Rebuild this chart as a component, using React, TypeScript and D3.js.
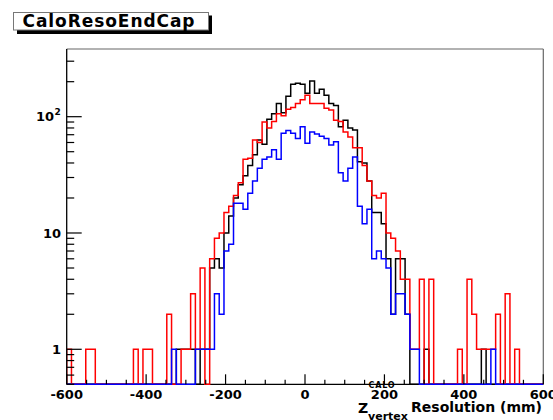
import React from "react";
import * as d3 from "d3";

// ---- data (100 bins of 12 mm from -600 to 600) ----
const xMin = -600;
const xMax = 600;
const binCount = 100;

const blackCounts = [
  0,0,0,0,0,0,0,0,0,0, 0,0,0,0,0,0,0,0,0,0,
  0,0,0,1,1,1,1,0,1,1, 5,6,5,10,14,20,26,31,38,47,
  63,58,95,106,130,108,150,190,194,190, 159,203,159,172,153,130,125,82,93,80,
  77,41,40,28,15,15,12,6,2,6, 6,2,0,0,0,1,0,0,0,0,
  0,0,0,0,0,0,0,1,0,0, 0,0,0,0,0,0,0,0,0,0,
];

const redCounts = [
  1,0,0,0,1,1,0,0,0,0, 0,0,0,0,1,0,1,1,0,0,
  0,2,0,0,1,1,3,1,5,0, 6,9,10,15,17,21,27,43,44,63,
  60,90,80,91,106,102,116,120,130,140, 153,130,130,130,118,114,93,91,74,67,
  54,54,38,28,21,20,22,10,9,7, 4,4,1,1,4,0,4,0,0,0,
  0,0,1,0,4,2,1,1,1,1, 2,0,3,0,1,0,0,0,0,0,
];

const blueCounts = [
  0,0,0,0,0,0,0,0,0,0, 0,0,0,0,0,0,0,0,0,0,
  0,0,1,0,0,0,0,1,1,1, 1,3,2,7,8,18,18,16,22,28,
  36,43,45,52,43,72,76,72,65,82, 59,74,71,68,65,57,61,33,28,36,
  45,17,12,16,6,7,6,5,2,3, 3,2,1,1,0,0,0,0,0,0,
  0,0,0,0,0,0,0,0,0,1, 0,0,0,0,0,0,0,0,0,0,
];

const xTickLabels = [-600, -400, -200, 0, 200, 400, 600];
const yTickLabels = [1, 10, 100];
const titleText = "CaloResoEndCap";

const W = 553;
const H = 420;
const L = 66.7;
const R = 543.3;
const T = 49;
const B = 384.3;
const yDomainMin = 0.5;
const yDomainMax = 382;

const FONT = "'DejaVu Sans', 'Liberation Sans', Arial, sans-serif";

export default function App() {
  const x = d3.scaleLinear().domain([xMin, xMax]).range([L, R]);
  const y = d3.scaleLog().domain([yDomainMin, yDomainMax]).range([B, T]);
  const binW = (xMax - xMin) / binCount;
  const edges = d3.range(binCount + 1).map((i) => xMin + i * binW);

  const line = d3
    .line<[number, number]>()
    .x((d) => x(d[0]))
    .y((d) => y(d[1]));

  const histPath = (counts: number[]) => {
    const pts: [number, number][] = [[edges[0], yDomainMin]];
    counts.forEach((c, i) => {
      const v = c > 0 ? c : yDomainMin;
      pts.push([edges[i], v]);
      pts.push([edges[i + 1], v]);
    });
    pts.push([edges[binCount], yDomainMin]);
    return line(pts) || "";
  };

  const yMinor: number[] = [];
  [0.1, 1, 10, 100].forEach((dec) => {
    for (let k = 2; k <= 9; k++) {
      const v = dec * k;
      if (v >= yDomainMin && v <= yDomainMax) yMinor.push(v);
    }
  });
  const xTicks = d3.range(xMin, xMax + 1, 50);

  const series = [
    { counts: blackCounts, color: "#000000" },
    { counts: redCounts, color: "#ff0000" },
    { counts: blueCounts, color: "#0000ff" },
  ];

  return (
    <svg
      width={W}
      height={H}
      style={{ position: "absolute", left: 0, top: 0, background: "#fff" }}
      fontFamily={FONT}
    >
      <rect x={0} y={0} width={W} height={H} fill="#fff" />
      {/* title box */}
      <rect x={17} y={15.5} width={195} height={18.5} fill="#000" />
      <rect x={13.5} y={12.5} width={195} height={17.5} fill="#fff" stroke="#777" strokeWidth={1} />
      <text x={22.5} y={27} fontSize={17} fontWeight="bold" fill="#000" textLength={172} lengthAdjust="spacing">
        {titleText}
      </text>

      <defs>
        <clipPath id="plotClip">
          <rect x={L} y={T} width={R - L} height={B - T + 1.2} />
        </clipPath>
      </defs>

      {/* frame top/right */}
      <line x1={L} y1={T} x2={R} y2={T} stroke="#666" strokeWidth={1.2} />
      <line x1={R} y1={T} x2={R} y2={B} stroke="#666" strokeWidth={1.2} />

      {/* x axis line (under histograms) */}
      <line x1={L} y1={B} x2={R} y2={B} stroke="#000" strokeWidth={1.3} />

      {/* histograms */}
      <g clipPath="url(#plotClip)">
        {series.map((s, i) => (
          <path key={i} d={histPath(s.counts)} fill="none" stroke={s.color} strokeWidth={1.5} />
        ))}
      </g>

      {/* y axis */}
      <line x1={L} y1={T} x2={L} y2={B} stroke="#000" strokeWidth={1.3} />
      {yTickLabels.map((v) => (
        <line key={"ym" + v} x1={L} x2={L + 15} y1={y(v)} y2={y(v)} stroke="#000" strokeWidth={1.2} />
      ))}
      {yMinor.map((v) => (
        <line key={"yn" + v} x1={L} x2={L + 7.5} y1={y(v)} y2={y(v)} stroke="#000" strokeWidth={1.2} />
      ))}
      <text x={61} y={y(1) + 4.8} fontSize={13} fontWeight="bold" textAnchor="end">1</text>
      <text x={61} y={y(10) + 4.8} fontSize={13} fontWeight="bold" textAnchor="end">10</text>
      <text x={54} y={y(100) + 4.8} fontSize={13} fontWeight="bold" textAnchor="end">10</text>
      <text x={54.5} y={y(100) - 1.5} fontSize={9} fontWeight="bold" textAnchor="start">2</text>

      {/* x ticks */}
      {xTicks.map((v) => (
        <line
          key={"xt" + v}
          x1={x(v)}
          x2={x(v)}
          y1={B}
          y2={B - (v % 200 === 0 ? 10 : 4.5)}
          stroke="#000"
          strokeWidth={1.2}
        />
      ))}
      {xTickLabels.map((v) => (
        <text key={"xl" + v} x={x(v)} y={398.5} fontSize={13} fontWeight="bold" textAnchor="middle">
          {v}
        </text>
      ))}

      {/* x title */}
      <text x={358} y={412.5} fontSize={14} fontWeight="bold">Z</text>
      <text x={368.5} y={387.5} fontSize={8} fontWeight="bold" letterSpacing={0.8}>CALO</text>
      <text x={368} y={420} fontSize={11} fontWeight="bold">vertex</text>
      <text x={542} y={412} fontSize={14} fontWeight="bold" textAnchor="end">Resolution (mm)</text>
    </svg>
  );
}
